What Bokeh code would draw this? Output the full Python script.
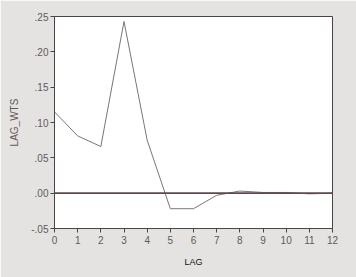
from bokeh.plotting import figure
from bokeh.models import FixedTicker, Range1d, Span
from bokeh.embed import file_html
from bokeh.resources import INLINE

lags = [0, 1, 2, 3, 4, 5, 6, 7, 8, 9, 10, 11, 12]
lag_wts = [0.115, 0.081, 0.066, 0.243, 0.075, -0.022, -0.022, -0.003, 0.003, 0.001, 0.001, -0.001, 0.0]
y_ticks = [-0.05, 0.0, 0.05, 0.10, 0.15, 0.20, 0.25]
y_tick_labels = ["-.05", ".00", ".05", ".10", ".15", ".20", ".25"]
x_ticks = list(range(13))

FONT = "Liberation Sans"

p = figure(width=356, height=277, output_backend="svg", toolbar_location=None,
           x_range=Range1d(0, 12), y_range=Range1d(-0.05, 0.25),
           min_border_left=54, min_border_right=24, min_border_top=16, min_border_bottom=49)
p.background_fill_color = "white"
p.border_fill_color = "#e5e3e1"
p.outline_line_color = "#4a4442"
p.outline_line_width = 1
p.grid.visible = False

p.line(lags, lag_wts, line_color="#7a7674", line_width=1)
p.add_layout(Span(location=0, dimension="width", line_color="#5a4c4a", line_width=1.6))

for ax in (p.xaxis[0], p.yaxis[0]):
    ax.axis_line_color = "#4a4442"
    ax.major_tick_line_color = "#4a4442"
    ax.major_tick_in = 0
    ax.major_tick_out = 4
    ax.minor_tick_line_color = None
    ax.major_label_text_font = FONT
    ax.major_label_text_font_size = "10px"
    ax.major_label_text_color = "#5e5a58"
    ax.axis_label_text_font = FONT
    ax.axis_label_text_font_style = "normal"

p.xaxis.ticker = FixedTicker(ticks=x_ticks)
p.xaxis.major_label_standoff = 3
p.xaxis.axis_label = "LAG"
p.xaxis.axis_label_text_font_size = "9px"
p.xaxis.axis_label_text_color = "#111111"
p.xaxis.axis_label_standoff = 10

p.yaxis.ticker = FixedTicker(ticks=y_ticks)
p.yaxis.major_label_overrides = {t: l for t, l in zip(y_ticks, y_tick_labels)}
p.yaxis.major_label_standoff = 2
p.yaxis.axis_label = "LAG_WTS"
p.yaxis.axis_label_text_font_size = "10px"
p.yaxis.axis_label_text_color = "#5e5a58"
p.yaxis.axis_label_standoff = 8

open("out.html", "w").write(file_html(p, INLINE))
